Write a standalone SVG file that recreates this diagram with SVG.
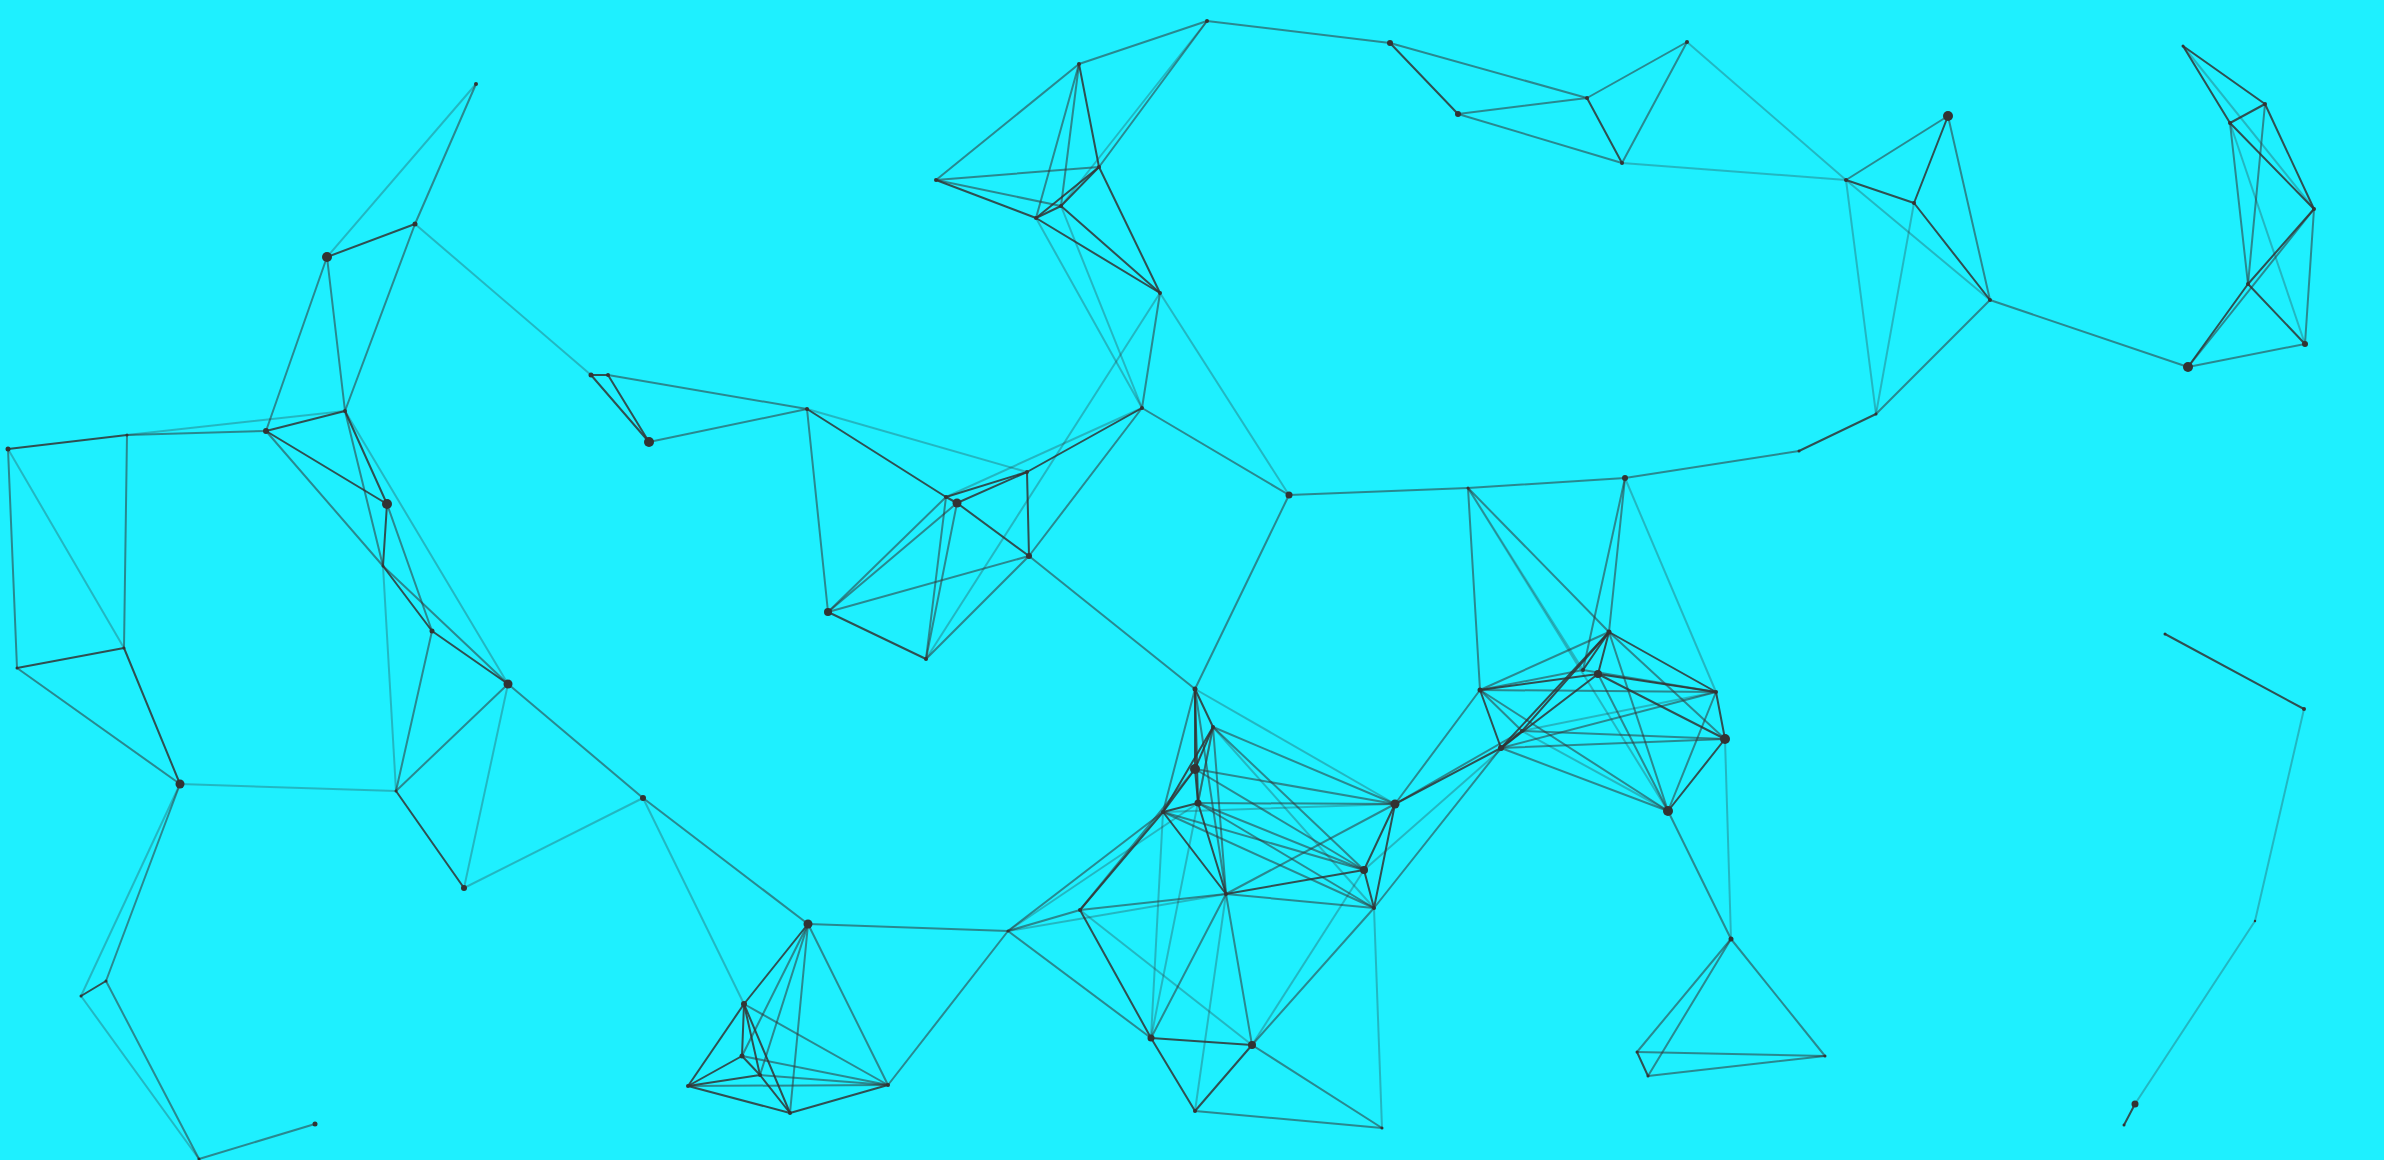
<svg xmlns="http://www.w3.org/2000/svg" width="2384" height="1160" viewBox="0 0 2384 1160">
<style>
line{stroke:#333;stroke-width:2;stroke-linecap:round}
.d{stroke-opacity:.85}
.m{stroke-opacity:.55}
.l{stroke-opacity:.3}
circle{fill:#333}
</style>
<rect width="2384" height="1160" fill="#1ef0ff"/>
<g id="connectors">
<line class="l" x1="476" y1="84" x2="327" y2="257"/>
<line class="m" x1="476" y1="84" x2="415" y2="224"/>
<line class="d" x1="415" y1="224" x2="327" y2="257"/>
<line class="m" x1="327" y1="257" x2="266" y2="431"/>
<line class="m" x1="327" y1="257" x2="345" y2="411"/>
<line class="m" x1="415" y1="224" x2="345" y2="411"/>
<line class="l" x1="415" y1="224" x2="591" y2="375"/>
<line class="d" x1="591" y1="375" x2="608" y2="375"/>
<line class="d" x1="591" y1="375" x2="649" y2="442"/>
<line class="d" x1="608" y1="375" x2="649" y2="442"/>
<line class="m" x1="608" y1="375" x2="807" y2="409"/>
<line class="m" x1="649" y1="442" x2="807" y2="409"/>
<line class="d" x1="8" y1="449" x2="127" y2="435"/>
<line class="m" x1="127" y1="435" x2="266" y2="431"/>
<line class="d" x1="266" y1="431" x2="345" y2="411"/>
<line class="l" x1="127" y1="435" x2="345" y2="411"/>
<line class="m" x1="8" y1="449" x2="17" y2="668"/>
<line class="l" x1="8" y1="449" x2="124" y2="648"/>
<line class="m" x1="127" y1="435" x2="124" y2="648"/>
<line class="d" x1="17" y1="668" x2="124" y2="648"/>
<line class="m" x1="17" y1="668" x2="180" y2="784"/>
<line class="d" x1="124" y1="648" x2="180" y2="784"/>
<line class="l" x1="180" y1="784" x2="396" y2="791"/>
<line class="d" x1="266" y1="431" x2="387" y2="504"/>
<line class="m" x1="266" y1="431" x2="383" y2="566"/>
<line class="d" x1="345" y1="411" x2="387" y2="504"/>
<line class="m" x1="345" y1="411" x2="383" y2="566"/>
<line class="l" x1="345" y1="411" x2="508" y2="684"/>
<line class="d" x1="387" y1="504" x2="383" y2="566"/>
<line class="m" x1="387" y1="504" x2="432" y2="631"/>
<line class="d" x1="383" y1="566" x2="432" y2="631"/>
<line class="d" x1="432" y1="631" x2="508" y2="684"/>
<line class="m" x1="383" y1="566" x2="508" y2="684"/>
<line class="l" x1="383" y1="566" x2="396" y2="791"/>
<line class="m" x1="432" y1="631" x2="396" y2="791"/>
<line class="m" x1="508" y1="684" x2="396" y2="791"/>
<line class="l" x1="508" y1="684" x2="464" y2="888"/>
<line class="m" x1="508" y1="684" x2="643" y2="798"/>
<line class="d" x1="396" y1="791" x2="464" y2="888"/>
<line class="l" x1="464" y1="888" x2="643" y2="798"/>
<line class="m" x1="643" y1="798" x2="808" y2="924"/>
<line class="l" x1="643" y1="798" x2="744" y2="1004"/>
<line class="l" x1="180" y1="784" x2="81" y2="996"/>
<line class="m" x1="180" y1="784" x2="106" y2="981"/>
<line class="d" x1="81" y1="996" x2="106" y2="981"/>
<line class="l" x1="81" y1="996" x2="199" y2="1159"/>
<line class="m" x1="106" y1="981" x2="199" y2="1159"/>
<line class="m" x1="199" y1="1159" x2="315" y2="1124"/>
<line class="d" x1="808" y1="924" x2="744" y2="1004"/>
<line class="m" x1="808" y1="924" x2="742" y2="1056"/>
<line class="m" x1="808" y1="924" x2="760" y2="1075"/>
<line class="m" x1="808" y1="924" x2="790" y2="1113"/>
<line class="m" x1="808" y1="924" x2="888" y2="1085"/>
<line class="m" x1="808" y1="924" x2="1008" y2="931"/>
<line class="d" x1="744" y1="1004" x2="742" y2="1056"/>
<line class="d" x1="744" y1="1004" x2="760" y2="1075"/>
<line class="d" x1="744" y1="1004" x2="790" y2="1113"/>
<line class="m" x1="744" y1="1004" x2="888" y2="1085"/>
<line class="d" x1="744" y1="1004" x2="688" y2="1086"/>
<line class="d" x1="742" y1="1056" x2="688" y2="1086"/>
<line class="d" x1="742" y1="1056" x2="760" y2="1075"/>
<line class="m" x1="742" y1="1056" x2="888" y2="1085"/>
<line class="d" x1="760" y1="1075" x2="790" y2="1113"/>
<line class="m" x1="760" y1="1075" x2="888" y2="1085"/>
<line class="d" x1="760" y1="1075" x2="688" y2="1086"/>
<line class="m" x1="688" y1="1086" x2="888" y2="1085"/>
<line class="d" x1="688" y1="1086" x2="790" y2="1113"/>
<line class="d" x1="790" y1="1113" x2="888" y2="1085"/>
<line class="m" x1="888" y1="1085" x2="1008" y2="931"/>
<line class="d" x1="807" y1="409" x2="946" y2="497"/>
<line class="m" x1="807" y1="409" x2="828" y2="612"/>
<line class="l" x1="807" y1="409" x2="1027" y2="472"/>
<line class="d" x1="946" y1="497" x2="957" y2="503"/>
<line class="d" x1="946" y1="497" x2="1027" y2="472"/>
<line class="d" x1="957" y1="503" x2="1027" y2="472"/>
<line class="l" x1="946" y1="497" x2="1142" y2="408"/>
<line class="d" x1="1027" y1="472" x2="1142" y2="408"/>
<line class="d" x1="957" y1="503" x2="1029" y2="556"/>
<line class="d" x1="1027" y1="472" x2="1029" y2="556"/>
<line class="m" x1="1029" y1="556" x2="1142" y2="408"/>
<line class="m" x1="946" y1="497" x2="828" y2="612"/>
<line class="m" x1="957" y1="503" x2="828" y2="612"/>
<line class="m" x1="828" y1="612" x2="1029" y2="556"/>
<line class="d" x1="828" y1="612" x2="926" y2="659"/>
<line class="m" x1="946" y1="497" x2="926" y2="659"/>
<line class="m" x1="957" y1="503" x2="926" y2="659"/>
<line class="m" x1="926" y1="659" x2="1029" y2="556"/>
<line class="l" x1="926" y1="659" x2="1160" y2="293"/>
<line class="m" x1="1029" y1="556" x2="1195" y2="689"/>
<line class="m" x1="1079" y1="64" x2="1207" y2="21"/>
<line class="m" x1="1079" y1="64" x2="936" y2="180"/>
<line class="m" x1="1079" y1="64" x2="1036" y2="218"/>
<line class="m" x1="1079" y1="64" x2="1061" y2="206"/>
<line class="d" x1="1079" y1="64" x2="1099" y2="167"/>
<line class="m" x1="1207" y1="21" x2="1099" y2="167"/>
<line class="l" x1="1207" y1="21" x2="1061" y2="206"/>
<line class="m" x1="936" y1="180" x2="1099" y2="167"/>
<line class="m" x1="936" y1="180" x2="1061" y2="206"/>
<line class="d" x1="936" y1="180" x2="1036" y2="218"/>
<line class="d" x1="1036" y1="218" x2="1061" y2="206"/>
<line class="d" x1="1036" y1="218" x2="1099" y2="167"/>
<line class="d" x1="1061" y1="206" x2="1099" y2="167"/>
<line class="d" x1="1160" y1="293" x2="1099" y2="167"/>
<line class="d" x1="1160" y1="293" x2="1061" y2="206"/>
<line class="d" x1="1160" y1="293" x2="1036" y2="218"/>
<line class="l" x1="1036" y1="218" x2="1142" y2="408"/>
<line class="l" x1="1061" y1="206" x2="1142" y2="408"/>
<line class="m" x1="1160" y1="293" x2="1142" y2="408"/>
<line class="m" x1="1142" y1="408" x2="1289" y2="495"/>
<line class="l" x1="1160" y1="293" x2="1289" y2="495"/>
<line class="m" x1="1207" y1="21" x2="1390" y2="43"/>
<line class="d" x1="1390" y1="43" x2="1458" y2="114"/>
<line class="m" x1="1390" y1="43" x2="1587" y2="98"/>
<line class="m" x1="1458" y1="114" x2="1587" y2="98"/>
<line class="m" x1="1458" y1="114" x2="1622" y2="163"/>
<line class="m" x1="1587" y1="98" x2="1687" y2="42"/>
<line class="d" x1="1587" y1="98" x2="1622" y2="163"/>
<line class="m" x1="1687" y1="42" x2="1622" y2="163"/>
<line class="l" x1="1687" y1="42" x2="1846" y2="180"/>
<line class="l" x1="1622" y1="163" x2="1846" y2="180"/>
<line class="m" x1="1846" y1="180" x2="1948" y2="116"/>
<line class="d" x1="1846" y1="180" x2="1914" y2="203"/>
<line class="d" x1="1948" y1="116" x2="1914" y2="203"/>
<line class="d" x1="1914" y1="203" x2="1990" y2="300"/>
<line class="m" x1="1948" y1="116" x2="1990" y2="300"/>
<line class="l" x1="1846" y1="180" x2="1990" y2="300"/>
<line class="l" x1="1846" y1="180" x2="1876" y2="414"/>
<line class="l" x1="1914" y1="203" x2="1876" y2="414"/>
<line class="m" x1="1990" y1="300" x2="1876" y2="414"/>
<line class="d" x1="1876" y1="414" x2="1799" y2="451"/>
<line class="m" x1="1799" y1="451" x2="1625" y2="478"/>
<line class="m" x1="1990" y1="300" x2="2188" y2="367"/>
<line class="m" x1="1625" y1="478" x2="1468" y2="488"/>
<line class="m" x1="1468" y1="488" x2="1289" y2="495"/>
<line class="m" x1="1289" y1="495" x2="1195" y2="689"/>
<line class="d" x1="2183" y1="46" x2="2265" y2="104"/>
<line class="d" x1="2183" y1="46" x2="2230" y2="123"/>
<line class="d" x1="2265" y1="104" x2="2230" y2="123"/>
<line class="l" x1="2183" y1="46" x2="2314" y2="209"/>
<line class="l" x1="2230" y1="123" x2="2305" y2="344"/>
<line class="d" x1="2265" y1="104" x2="2314" y2="209"/>
<line class="m" x1="2265" y1="104" x2="2248" y2="284"/>
<line class="d" x1="2230" y1="123" x2="2314" y2="209"/>
<line class="m" x1="2230" y1="123" x2="2248" y2="284"/>
<line class="d" x1="2314" y1="209" x2="2248" y2="284"/>
<line class="m" x1="2314" y1="209" x2="2305" y2="344"/>
<line class="m" x1="2314" y1="209" x2="2188" y2="367"/>
<line class="d" x1="2248" y1="284" x2="2305" y2="344"/>
<line class="d" x1="2248" y1="284" x2="2188" y2="367"/>
<line class="m" x1="2305" y1="344" x2="2188" y2="367"/>
<line class="d" x1="2165" y1="634" x2="2304" y2="709"/>
<line class="l" x1="2304" y1="709" x2="2255" y2="921"/>
<line class="l" x1="2255" y1="921" x2="2135" y2="1104"/>
<line class="d" x1="2135" y1="1104" x2="2124" y2="1125"/>
<line class="m" x1="1625" y1="478" x2="1609" y2="632"/>
<line class="m" x1="1625" y1="478" x2="1583" y2="670"/>
<line class="l" x1="1625" y1="478" x2="1716" y2="692"/>
<line class="m" x1="1468" y1="488" x2="1480" y2="690"/>
<line class="m" x1="1468" y1="488" x2="1609" y2="632"/>
<line class="l" x1="1468" y1="488" x2="1668" y2="811"/>
<line class="l" x1="1468" y1="488" x2="1583" y2="670"/>
<line class="m" x1="1609" y1="632" x2="1480" y2="690"/>
<line class="d" x1="1609" y1="632" x2="1598" y2="674"/>
<line class="d" x1="1609" y1="632" x2="1583" y2="670"/>
<line class="d" x1="1609" y1="632" x2="1716" y2="692"/>
<line class="m" x1="1609" y1="632" x2="1725" y2="739"/>
<line class="d" x1="1609" y1="632" x2="1501" y2="748"/>
<line class="d" x1="1609" y1="632" x2="1522" y2="731"/>
<line class="m" x1="1609" y1="632" x2="1668" y2="811"/>
<line class="d" x1="1480" y1="690" x2="1598" y2="674"/>
<line class="m" x1="1480" y1="690" x2="1583" y2="670"/>
<line class="d" x1="1480" y1="690" x2="1501" y2="748"/>
<line class="m" x1="1480" y1="690" x2="1522" y2="731"/>
<line class="m" x1="1480" y1="690" x2="1716" y2="692"/>
<line class="m" x1="1480" y1="690" x2="1668" y2="811"/>
<line class="d" x1="1598" y1="674" x2="1716" y2="692"/>
<line class="d" x1="1598" y1="674" x2="1725" y2="739"/>
<line class="d" x1="1598" y1="674" x2="1501" y2="748"/>
<line class="m" x1="1598" y1="674" x2="1668" y2="811"/>
<line class="m" x1="1583" y1="670" x2="1716" y2="692"/>
<line class="d" x1="1716" y1="692" x2="1725" y2="739"/>
<line class="m" x1="1716" y1="692" x2="1668" y2="811"/>
<line class="m" x1="1716" y1="692" x2="1501" y2="748"/>
<line class="l" x1="1716" y1="692" x2="1522" y2="731"/>
<line class="m" x1="1725" y1="739" x2="1501" y2="748"/>
<line class="m" x1="1725" y1="739" x2="1522" y2="731"/>
<line class="d" x1="1725" y1="739" x2="1668" y2="811"/>
<line class="l" x1="1725" y1="739" x2="1731" y2="939"/>
<line class="d" x1="1501" y1="748" x2="1522" y2="731"/>
<line class="m" x1="1501" y1="748" x2="1668" y2="811"/>
<line class="l" x1="1522" y1="731" x2="1668" y2="811"/>
<line class="m" x1="1668" y1="811" x2="1731" y2="939"/>
<line class="m" x1="1731" y1="939" x2="1637" y2="1052"/>
<line class="m" x1="1731" y1="939" x2="1648" y2="1076"/>
<line class="m" x1="1731" y1="939" x2="1825" y2="1056"/>
<line class="d" x1="1637" y1="1052" x2="1648" y2="1076"/>
<line class="m" x1="1637" y1="1052" x2="1825" y2="1056"/>
<line class="m" x1="1648" y1="1076" x2="1825" y2="1056"/>
<line class="m" x1="1395" y1="804" x2="1480" y2="690"/>
<line class="d" x1="1395" y1="804" x2="1501" y2="748"/>
<line class="m" x1="1395" y1="804" x2="1522" y2="731"/>
<line class="m" x1="1374" y1="908" x2="1501" y2="748"/>
<line class="l" x1="1364" y1="870" x2="1522" y2="731"/>
<line class="d" x1="1195" y1="689" x2="1213" y2="727"/>
<line class="d" x1="1195" y1="689" x2="1195" y2="769"/>
<line class="d" x1="1195" y1="689" x2="1198" y2="803"/>
<line class="m" x1="1195" y1="689" x2="1163" y2="812"/>
<line class="l" x1="1195" y1="689" x2="1395" y2="804"/>
<line class="m" x1="1195" y1="689" x2="1226" y2="894"/>
<line class="d" x1="1213" y1="727" x2="1195" y2="769"/>
<line class="d" x1="1213" y1="727" x2="1163" y2="812"/>
<line class="m" x1="1213" y1="727" x2="1198" y2="803"/>
<line class="m" x1="1213" y1="727" x2="1395" y2="804"/>
<line class="m" x1="1213" y1="727" x2="1364" y2="870"/>
<line class="l" x1="1213" y1="727" x2="1374" y2="908"/>
<line class="m" x1="1213" y1="727" x2="1226" y2="894"/>
<line class="l" x1="1213" y1="727" x2="1151" y2="1038"/>
<line class="d" x1="1195" y1="769" x2="1163" y2="812"/>
<line class="d" x1="1195" y1="769" x2="1198" y2="803"/>
<line class="m" x1="1195" y1="769" x2="1395" y2="804"/>
<line class="m" x1="1195" y1="769" x2="1364" y2="870"/>
<line class="d" x1="1198" y1="803" x2="1163" y2="812"/>
<line class="m" x1="1198" y1="803" x2="1395" y2="804"/>
<line class="m" x1="1198" y1="803" x2="1364" y2="870"/>
<line class="m" x1="1198" y1="803" x2="1374" y2="908"/>
<line class="d" x1="1198" y1="803" x2="1226" y2="894"/>
<line class="d" x1="1163" y1="812" x2="1226" y2="894"/>
<line class="m" x1="1163" y1="812" x2="1364" y2="870"/>
<line class="m" x1="1163" y1="812" x2="1374" y2="908"/>
<line class="d" x1="1163" y1="812" x2="1080" y2="910"/>
<line class="l" x1="1163" y1="812" x2="1395" y2="804"/>
<line class="l" x1="1163" y1="812" x2="1151" y2="1038"/>
<line class="m" x1="1226" y1="894" x2="1395" y2="804"/>
<line class="d" x1="1226" y1="894" x2="1364" y2="870"/>
<line class="m" x1="1226" y1="894" x2="1374" y2="908"/>
<line class="m" x1="1226" y1="894" x2="1080" y2="910"/>
<line class="m" x1="1226" y1="894" x2="1151" y2="1038"/>
<line class="m" x1="1226" y1="894" x2="1252" y2="1045"/>
<line class="l" x1="1226" y1="894" x2="1195" y2="1111"/>
<line class="d" x1="1395" y1="804" x2="1364" y2="870"/>
<line class="d" x1="1395" y1="804" x2="1374" y2="908"/>
<line class="d" x1="1364" y1="870" x2="1374" y2="908"/>
<line class="l" x1="1364" y1="870" x2="1252" y2="1045"/>
<line class="l" x1="1374" y1="908" x2="1382" y2="1128"/>
<line class="m" x1="1374" y1="908" x2="1252" y2="1045"/>
<line class="d" x1="1080" y1="910" x2="1151" y2="1038"/>
<line class="l" x1="1080" y1="910" x2="1252" y2="1045"/>
<line class="m" x1="1080" y1="910" x2="1195" y2="769"/>
<line class="d" x1="1151" y1="1038" x2="1252" y2="1045"/>
<line class="d" x1="1151" y1="1038" x2="1195" y2="1111"/>
<line class="d" x1="1252" y1="1045" x2="1195" y2="1111"/>
<line class="m" x1="1252" y1="1045" x2="1382" y2="1128"/>
<line class="m" x1="1195" y1="1111" x2="1382" y2="1128"/>
<line class="m" x1="1008" y1="931" x2="1080" y2="910"/>
<line class="l" x1="1008" y1="931" x2="1226" y2="894"/>
<line class="m" x1="1008" y1="931" x2="1151" y2="1038"/>
<line class="m" x1="1008" y1="931" x2="1163" y2="812"/>
<line class="l" x1="1008" y1="931" x2="1198" y2="803"/>
</g>
<g id="n-A"><circle cx="476" cy="84" r="2"/></g>
<g id="n-B"><circle cx="415" cy="224" r="2.5"/></g>
<g id="n-C"><circle cx="327" cy="257" r="5"/></g>
<g id="n-D1"><circle cx="591" cy="375" r="2.5"/></g>
<g id="n-D2"><circle cx="608" cy="375" r="2"/></g>
<g id="n-E"><circle cx="649" cy="442" r="5"/></g>
<g id="n-F"><circle cx="807" cy="409" r="2"/></g>
<g id="n-G"><circle cx="8" cy="449" r="2.5"/></g>
<g id="n-H"><circle cx="127" cy="435" r="1.5"/></g>
<g id="n-I"><circle cx="266" cy="431" r="3"/></g>
<g id="n-J"><circle cx="345" cy="411" r="2"/></g>
<g id="n-K"><circle cx="387" cy="504" r="5"/></g>
<g id="n-L"><circle cx="383" cy="566" r="1.5"/></g>
<g id="n-M"><circle cx="432" cy="631" r="2.5"/></g>
<g id="n-N"><circle cx="508" cy="684" r="4.5"/></g>
<g id="n-O"><circle cx="17" cy="668" r="1.5"/></g>
<g id="n-P"><circle cx="124" cy="648" r="1.5"/></g>
<g id="n-Q"><circle cx="180" cy="784" r="4.5"/></g>
<g id="n-R"><circle cx="396" cy="791" r="1.5"/></g>
<g id="n-S"><circle cx="464" cy="888" r="3"/></g>
<g id="n-T"><circle cx="643" cy="798" r="3"/></g>
<g id="n-U"><circle cx="808" cy="924" r="4.5"/></g>
<g id="n-V"><circle cx="1008" cy="931" r="1.5"/></g>
<g id="n-W"><circle cx="888" cy="1085" r="2"/></g>
<g id="n-X"><circle cx="744" cy="1004" r="3"/></g>
<g id="n-Y"><circle cx="742" cy="1056" r="2.5"/></g>
<g id="n-Z"><circle cx="760" cy="1075" r="2"/></g>
<g id="n-AA"><circle cx="688" cy="1086" r="2"/></g>
<g id="n-AB"><circle cx="790" cy="1113" r="2"/></g>
<g id="n-BL1"><circle cx="81" cy="996" r="1.5"/></g>
<g id="n-BL2"><circle cx="106" cy="981" r="1.5"/></g>
<g id="n-BL3"><circle cx="199" cy="1159" r="1.5"/></g>
<g id="n-BL4"><circle cx="315" cy="1124" r="2.5"/></g>
<g id="n-TC1"><circle cx="1079" cy="64" r="2"/></g>
<g id="n-TC2"><circle cx="1207" cy="21" r="2"/></g>
<g id="n-TC3"><circle cx="936" cy="180" r="2"/></g>
<g id="n-TC4"><circle cx="1099" cy="167" r="2"/></g>
<g id="n-TC5"><circle cx="1061" cy="206" r="2"/></g>
<g id="n-TC6"><circle cx="1036" cy="218" r="2"/></g>
<g id="n-TC7"><circle cx="1160" cy="293" r="2"/></g>
<g id="n-TC8"><circle cx="1142" cy="408" r="2"/></g>
<g id="n-TC9"><circle cx="1390" cy="43" r="3"/></g>
<g id="n-TC10"><circle cx="1458" cy="114" r="3"/></g>
<g id="n-TC11"><circle cx="1587" cy="98" r="2"/></g>
<g id="n-TC12"><circle cx="1687" cy="42" r="2"/></g>
<g id="n-TC13"><circle cx="1622" cy="163" r="2"/></g>
<g id="n-TC14"><circle cx="1846" cy="180" r="2"/></g>
<g id="n-TC15"><circle cx="1948" cy="116" r="5"/></g>
<g id="n-TC16"><circle cx="1914" cy="203" r="2"/></g>
<g id="n-TC17"><circle cx="1990" cy="300" r="2"/></g>
<g id="n-TC18"><circle cx="1876" cy="414" r="1.5"/></g>
<g id="n-TC19"><circle cx="1799" cy="451" r="1.5"/></g>
<g id="n-TC20"><circle cx="1625" cy="478" r="3"/></g>
<g id="n-TC21"><circle cx="1289" cy="495" r="3.5"/></g>
<g id="n-TC22"><circle cx="1468" cy="488" r="1.5"/></g>
<g id="n-R1"><circle cx="2183" cy="46" r="1.5"/></g>
<g id="n-R2"><circle cx="2265" cy="104" r="2"/></g>
<g id="n-R3"><circle cx="2230" cy="123" r="2"/></g>
<g id="n-R4"><circle cx="2314" cy="209" r="2"/></g>
<g id="n-R5"><circle cx="2248" cy="284" r="2"/></g>
<g id="n-R6"><circle cx="2305" cy="344" r="3"/></g>
<g id="n-R7"><circle cx="2188" cy="367" r="5"/></g>
<g id="n-RM1"><circle cx="2165" cy="634" r="1.5"/></g>
<g id="n-RM2"><circle cx="2304" cy="709" r="2"/></g>
<g id="n-RM3"><circle cx="2255" cy="921" r="1.2"/></g>
<g id="n-RM4"><circle cx="2135" cy="1104" r="3.5"/></g>
<g id="n-RM5"><circle cx="2124" cy="1125" r="1.5"/></g>
<g id="n-CL1"><circle cx="946" cy="497" r="2"/></g>
<g id="n-CL2"><circle cx="957" cy="503" r="4.5"/></g>
<g id="n-CL3"><circle cx="1027" cy="472" r="2"/></g>
<g id="n-CL4"><circle cx="1029" cy="556" r="3"/></g>
<g id="n-CL5"><circle cx="828" cy="612" r="4"/></g>
<g id="n-CL6"><circle cx="926" cy="659" r="2"/></g>
<g id="n-C1"><circle cx="1195" cy="689" r="2.5"/></g>
<g id="n-C2"><circle cx="1213" cy="727" r="2"/></g>
<g id="n-C3"><circle cx="1195" cy="769" r="5"/></g>
<g id="n-C4"><circle cx="1198" cy="803" r="3.5"/></g>
<g id="n-C5"><circle cx="1163" cy="812" r="2"/></g>
<g id="n-C6"><circle cx="1226" cy="894" r="2"/></g>
<g id="n-C7"><circle cx="1395" cy="804" r="4.5"/></g>
<g id="n-C8"><circle cx="1364" cy="870" r="4"/></g>
<g id="n-C9"><circle cx="1374" cy="908" r="2"/></g>
<g id="n-C10"><circle cx="1080" cy="910" r="2"/></g>
<g id="n-C11"><circle cx="1151" cy="1038" r="3.5"/></g>
<g id="n-C12"><circle cx="1252" cy="1045" r="4"/></g>
<g id="n-C13"><circle cx="1195" cy="1111" r="2"/></g>
<g id="n-C14"><circle cx="1382" cy="1128" r="1.5"/></g>
<g id="n-RC1"><circle cx="1609" cy="632" r="2.5"/></g>
<g id="n-RC2"><circle cx="1480" cy="690" r="2.5"/></g>
<g id="n-RC3a"><circle cx="1583" cy="670" r="2"/></g>
<g id="n-RC3"><circle cx="1598" cy="674" r="4"/></g>
<g id="n-RC4"><circle cx="1716" cy="692" r="2"/></g>
<g id="n-RC5"><circle cx="1725" cy="739" r="5"/></g>
<g id="n-RC6"><circle cx="1501" cy="748" r="3"/></g>
<g id="n-RC7"><circle cx="1522" cy="731" r="2"/></g>
<g id="n-RC8"><circle cx="1668" cy="811" r="5"/></g>
<g id="n-RC9"><circle cx="1731" cy="939" r="2.5"/></g>
<g id="n-RC10"><circle cx="1637" cy="1052" r="1.5"/></g>
<g id="n-RC11"><circle cx="1648" cy="1076" r="1.5"/></g>
<g id="n-RC12"><circle cx="1825" cy="1056" r="1.5"/></g>
</svg>
